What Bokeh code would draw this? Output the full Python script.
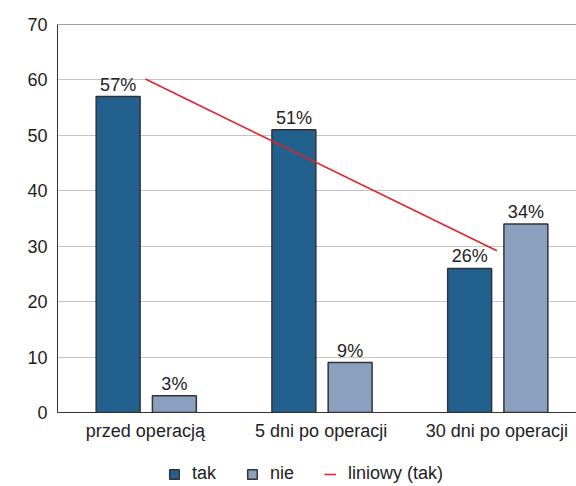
import numpy as np
from bokeh.plotting import figure
from bokeh.layouts import column
from bokeh.models import (ColumnDataSource, Range1d, FixedTicker, Span,
                          Legend, LegendItem, BoxAnnotation)
from bokeh.transform import dodge
from bokeh.core.properties import value
from bokeh.embed import file_html
from bokeh.resources import INLINE

# --- data -------------------------------------------------------------
categories = ["przed operacją", "5 dni po operacji", "30 dni po operacji"]
tak = [57, 51, 26]
nie = [3, 9, 34]
y_ticks = [0, 10, 20, 30, 40, 50, 60, 70]

FONT = "Liberation Sans"
FONT_SIZE = "18px"
TEXT_COLOR = "#222222"
TAK_COLOR = "#22608e"
NIE_COLOR = "#8ba0bf"
EDGE = "#333333"
TREND_COLOR = "#e3222b"

pos = list(range(1, len(categories) + 1))
source = ColumnDataSource(dict(
    x=pos,
    tak=tak,
    nie=nie,
    tak_lbl=[f"{v}%" for v in tak],
    nie_lbl=[f"{v}%" for v in nie],
))

# --- main chart -------------------------------------------------------
p = figure(width=576, height=452,
           x_range=Range1d(0.5, 3.453), y_range=Range1d(0, 70),
           output_backend="svg", toolbar_location=None,
           min_border_left=57, min_border_right=0,
           min_border_top=24, min_border_bottom=40)
p.outline_line_color = None

# grid
p.xgrid.grid_line_color = None
p.ygrid.ticker = FixedTicker(ticks=y_ticks[1:-1])
p.ygrid.grid_line_color = "#c4c4c4"
p.ygrid.grid_line_width = 1

# top border line of the frame
p.add_layout(Span(location=70, dimension="width",
                  line_color="#444444", line_width=1))

# axes
for ax in (p.xaxis, p.yaxis):
    ax.major_tick_line_color = None
    ax.minor_tick_line_color = None
    ax.major_tick_out = 0
    ax.major_tick_in = 0
    ax.minor_tick_out = 0
    ax.axis_line_color = "#333333"
    ax.major_label_text_font = FONT
    ax.major_label_text_font_size = FONT_SIZE
    ax.major_label_text_color = TEXT_COLOR

p.yaxis.ticker = FixedTicker(ticks=y_ticks)
p.yaxis.major_label_standoff = 10

p.xaxis.ticker = FixedTicker(ticks=pos)
p.xaxis.major_label_overrides = {k: c for k, c in zip(pos, categories)}
p.xaxis.major_label_standoff = 8

# bars
off_tak, off_nie, bw = -0.155, 0.165, 0.25
bar_tak = dict(fill_color=TAK_COLOR, line_color=EDGE, line_width=1.5)
bar_nie = dict(fill_color=NIE_COLOR, line_color=EDGE, line_width=1.5)
p.vbar(x=dodge("x", off_tak, range=p.x_range), top="tak", width=bw,
       source=source, **bar_tak)
p.vbar(x=dodge("x", off_nie, range=p.x_range), top="nie", width=bw,
       source=source, **bar_nie)

# value labels above the bars
for off, col in ((off_tak, "tak"), (off_nie, "nie")):
    p.text(x=dodge("x", off, range=p.x_range), y=col, text=f"{col}_lbl",
           source=source, text_align="center", text_baseline="bottom",
           y_offset=-2, text_font=value(FONT), text_font_size=FONT_SIZE,
           text_color=TEXT_COLOR)

# linear trend of the "tak" series
coef = np.polyfit(pos, tak, 1)
trend_x = [pos[0], pos[-1]]
trend_y = list(np.polyval(coef, trend_x))
trend_style = dict(line_color=TREND_COLOR, line_width=1.6)
p.line(trend_x, trend_y, **trend_style)

# --- legend strip -----------------------------------------------------
# Key glyphs share the chart styles; a white box hides them so only the
# legend entries on top remain visible.
lg = figure(width=576, height=34, x_range=Range1d(0, 1), y_range=Range1d(0, 1),
            x_axis_type=None, y_axis_type=None,
            output_backend="svg", toolbar_location=None, min_border=0)
lg.outline_line_color = None
lg.grid.visible = False
k_tak = lg.vbar(x=[0.5], top=[0.5], width=0.05, **bar_tak)
k_nie = lg.vbar(x=[0.5], top=[0.5], width=0.05, **bar_nie)
k_trend = lg.line(x=[0.4, 0.6], y=[0.5, 0.5], **trend_style)
lg.add_layout(BoxAnnotation(left=-1, right=2, bottom=-1, top=2,
                            fill_color="white", fill_alpha=1,
                            line_color=None))

legend = Legend(items=[
    LegendItem(label="tak", renderers=[k_tak]),
    LegendItem(label="nie", renderers=[k_nie]),
    LegendItem(label="liniowy (tak)", renderers=[k_trend]),
], orientation="horizontal", location=(111, 2),
    glyph_width=12, glyph_height=12, spacing=30, label_standoff=12,
    padding=0, margin=0, border_line_color=None, background_fill_alpha=0,
    label_text_font=FONT, label_text_font_size=FONT_SIZE,
    label_text_color=TEXT_COLOR, label_height=12)
lg.add_layout(legend)

layout = column(p, lg, spacing=0)
open("out.html", "w").write(file_html(layout, INLINE))
